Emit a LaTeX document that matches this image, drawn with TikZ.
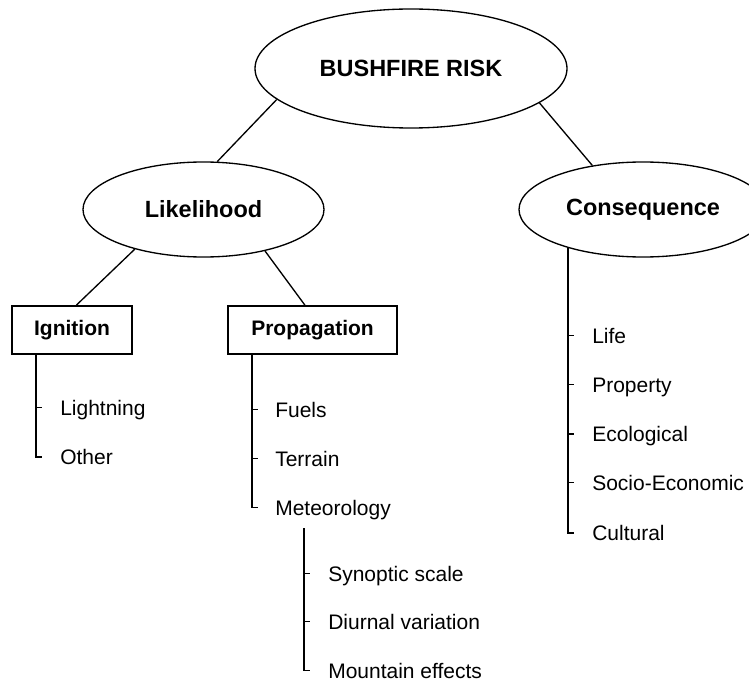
\documentclass[tikz,border=0pt]{standalone}
\usepackage{fontspec}
\setmainfont{Liberation Sans}
\usepackage{tikz}
\usetikzlibrary{shapes.geometric, calc}

\begin{document}
\begin{tikzpicture}[x=0.75pt, y=-0.75pt,
  oval/.style={ellipse, draw, line width=1pt, inner sep=0pt, font=\fontsize{17.6pt}{20pt}\bfseries},
  head/.style={rectangle, draw, line width=1.3pt, inner sep=0pt, minimum height=36pt, font=\fontsize{15.75pt}{18pt}\bfseries},
  item/.style={anchor=west, inner sep=0pt, text height=11.3pt, text depth=0pt, font=\fontsize{15.75pt}{18pt}\selectfont},
  link/.style={line width=1pt},
  trunk/.style={line width=1.3pt}]
\useasboundingbox (0,0) rectangle (749,681);
% ellipses and boxes
\node[oval, minimum width=234pt, minimum height=89.25pt] (risk) at (411,68.5) {BUSHFIRE RISK};
\node[oval, minimum width=180.75pt, minimum height=71.25pt] (like) at (203.5,209.5) {Likelihood};
\node[oval, minimum width=186pt, minimum height=71.25pt] (cons) at (643,209.5) {Consequence};
\node[head, minimum width=90pt] (ign) at (72,330) {Ignition};
\node[head, minimum width=126.75pt] (prop) at (312.5,330) {Propagation};
\draw[link] (risk.193) -- (like.74);
\draw[link] (risk.345) -- (cons.139);
\draw[link] (like.210) -- (ign.80);
\draw[link] (like.326) -- (prop.107);
% ignition
\node[item] (light) at (60,407.5) {Lightning};
\node[item] (other) at (60,457) {Other};
% propagation
\node[item] (fuels) at (275,409.5) {Fuels};
\node[item] (terr) at (275,458.5) {Terrain};
\node[item] (meteo) at (275,507.5) {Meteorology};
\node[item] (syn) at (328,573.5) {Synoptic scale};
\node[item] (diur) at (328,621.5) {Diurnal variation};
\node[item] (mount) at (328,670.5) {Mountain effects};
% consequence
\node[item] (life) at (592,335.5) {Life};
\node[item] (prty) at (592,384.5) {Property};
\node[item] (eco) at (592,434) {Ecological};
\node[item] (socio) at (592,482.5) {Socio-Economic};
\node[item] (cult) at (592,533) {Cultural};
% trunks
\coordinate (ignT) at ($(light.west)+(-24,0)$);
\coordinate (propT) at ($(fuels.west)+(-23,0)$);
\coordinate (meteoT) at ($(syn.west)+(-24,0)$);
\coordinate (consT) at ($(life.west)+(-24,0)$);
\draw[trunk] (ign.south -| ignT) |- ($(other.west)+(-18,0)$);
\draw[trunk] (prop.south -| propT) |- ($(meteo.west)+(-17,0)$);
\draw[trunk] ($(meteo.west)+(29,20.5)$) |- ($(mount.west)+(-18,0)$);
\draw[trunk] (cons.207 -| consT) |- ($(cult.west)+(-18,0)$);
\foreach \n in {light,syn,diur,life,prty,eco,socio}
  \draw[trunk] ($(\n.west)+(-24,0)$) -- ++(6,0);
\foreach \n in {fuels,terr}
  \draw[trunk] ($(\n.west)+(-23,0)$) -- ++(6,0);
\end{tikzpicture}
\end{document}
